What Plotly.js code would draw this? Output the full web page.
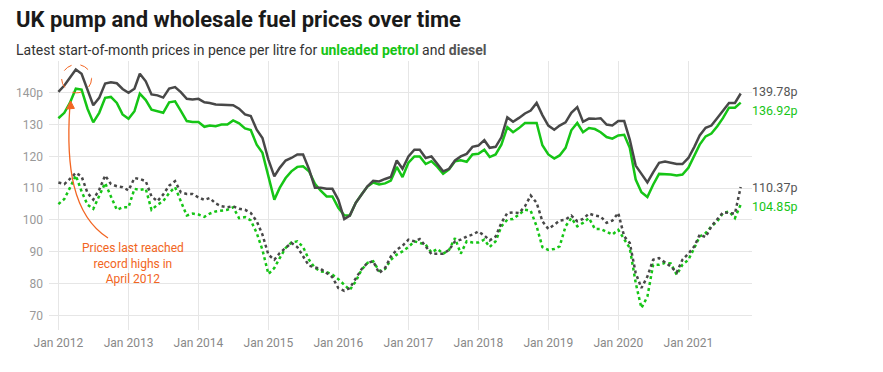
<!DOCTYPE html>
<html>
<head>
<meta charset="utf-8">
<script src="https://cdn.plot.ly/plotly-3.0.1.min.js"></script>
<style>html,body{margin:0;padding:0;background:#fff}#chart{width:883px;height:372px}</style>
</head>
<body>
<div id="chart"></div>
<script>
// Monthly series, Jan 2012 – Oct 2021 (pence per litre)
const startYear = 2012;
const dieselPump = [140.3,142.3,144.7,147.3,146.0,141.0,136.1,138.4,142.9,143.3,143.0,141.2,
 140.0,141.3,146.0,143.6,139.5,139.2,138.5,141.3,141.8,140.2,138.1,137.9,
 138.1,137.0,136.8,136.3,136.2,136.2,136.1,135.0,133.2,132.7,128.4,125.8,
 119.0,113.7,116.4,118.7,119.5,120.6,120.6,116.0,110.1,110.1,109.8,109.8,
 106.4,100.3,101.4,105.4,108.0,110.6,112.3,112.1,112.9,113.5,118.7,116.1,
 120.0,122.1,122.1,119.5,120.0,117.6,115.3,116.1,118.7,120.0,120.8,123.0,
 123.4,125.1,122.7,123.0,126.0,132.3,130.9,132.1,133.5,134.4,136.8,133.0,
 129.7,128.4,129.7,130.7,133.7,135.5,130.9,131.9,131.8,132.0,130.0,129.7,
 131.1,131.1,125.3,117.1,114.6,111.8,115.0,118.0,118.4,118.0,117.6,117.6,
 119.5,123.0,126.6,129.0,129.7,132.1,134.4,136.8,136.8,139.78];
const petrolPump = [132.0,133.7,136.8,141.3,141.0,135.0,130.7,133.7,138.4,138.7,136.8,133.2,
 131.8,134.2,139.7,137.7,134.7,134.2,133.7,137.0,137.3,134.3,131.1,130.8,
 130.8,129.3,129.7,129.5,130.0,130.0,131.3,130.4,128.8,128.3,123.7,121.1,
 113.7,106.4,110.1,113.2,115.3,116.7,116.9,115.3,111.4,109.2,107.4,107.4,
 103.8,101.5,101.4,105.4,108.0,110.5,111.8,111.2,111.5,112.4,116.7,113.5,
 118.0,120.0,120.0,117.6,118.5,116.7,114.5,115.9,118.5,118.8,118.3,120.6,
 120.8,122.1,119.8,120.6,123.7,129.2,127.6,128.9,130.5,130.5,130.5,123.5,
 120.6,119.3,120.3,122.7,128.2,130.5,127.6,128.9,128.6,127.6,126.1,125.6,
 126.6,126.8,122.7,112.7,108.7,107.2,111.1,114.5,114.5,114.3,114.0,114.3,
 116.4,120.0,123.7,126.3,127.2,129.5,132.1,135.3,135.3,136.92];
const dieselWholesale = [111.8,111.3,112.9,114.8,113.7,108.5,106.4,109.5,114.0,111.3,110.6,110.3,
 109.3,113.2,112.9,112.2,107.4,105.9,108.0,110.8,112.2,108.7,108.2,108.2,
 107.1,106.3,106.9,105.2,104.3,104.0,104.3,103.5,103.2,102.2,99.6,95.4,
 89.1,87.5,89.6,91.2,92.8,91.5,88.8,85.6,85.1,84.6,83.3,82.0,
 78.6,77.7,78.6,81.7,84.5,86.5,87.0,83.3,84.9,88.5,90.6,91.9,
 93.8,93.3,94.0,91.7,89.3,89.4,89.4,90.6,93.3,93.8,94.8,95.4,
 96.4,95.1,93.6,94.8,99.1,102.2,102.4,102.2,104.3,107.7,105.4,99.6,
 97.2,98.5,99.8,100.1,101.4,99.6,100.3,102.0,101.4,101.1,99.1,99.8,
 102.2,94.8,92.8,83.3,78.6,82.2,87.5,88.0,86.6,85.4,83.5,87.5,
 89.4,91.7,95.4,94.6,98.0,100.1,102.4,102.2,102.0,110.37];
const petrolWholesale = [105.0,106.6,110.1,114.0,109.0,104.8,103.5,107.4,111.6,107.4,103.2,104.0,
 104.0,109.8,109.5,109.8,103.2,104.8,105.9,108.5,110.3,105.9,101.4,102.0,
 101.7,101.0,102.0,102.7,102.9,103.2,104.0,100.6,100.9,99.9,95.9,90.6,
 83.0,84.9,88.0,91.2,92.9,93.3,91.5,87.5,84.9,83.8,83.6,82.8,
 81.4,79.6,78.0,80.7,84.3,86.5,87.0,84.0,84.6,87.5,89.1,90.1,
 91.5,93.3,92.8,92.2,89.8,90.9,89.4,90.6,94.3,89.4,93.3,92.9,
 92.9,93.8,91.5,93.3,98.0,100.1,100.3,101.7,103.2,102.9,98.0,91.5,
 90.6,90.9,91.7,98.0,100.6,98.0,99.1,100.6,97.2,97.2,96.4,95.4,
 96.9,93.8,91.2,80.2,72.3,75.9,85.9,85.9,86.5,86.3,82.8,85.9,
 87.5,91.2,94.8,95.9,98.0,99.6,102.2,102.7,100.6,104.85];
const yTickVals = [70,80,90,100,110,120,130,140];
const yTickText = ['70','80','90','100','110','120','130','140p'];
const endLabels = ['139.78p','136.92p','110.37p','104.85p'];

const months = dieselPump.map((_, i) => {
  const y = startYear + Math.floor(i / 12), m = (i % 12) + 1;
  return y + '-' + String(m).padStart(2, '0') + '-01';
});
const lastDate = months[months.length - 1];

const GREEN = '#16c516', DARK = '#484848', ORANGE = '#f26522';
const W = 883, H = 372;
const M = {l: 49, r: 131, t: 61, b: 42};
const pw = W - M.l - M.r, ph = H - M.t - M.b;
const px = x => ((x - M.l) / pw).toFixed(4);
const py = y => ((H - M.b - y) / ph).toFixed(4);

const base = {mode: 'lines', hoverinfo: 'skip', showlegend: false, x: months};
const traces = [
  Object.assign({}, base, {y: petrolWholesale, line: {color: GREEN, width: 2.5, dash: 'dot'}}),
  Object.assign({}, base, {y: dieselWholesale, line: {color: DARK, width: 2.5, dash: 'dot'}}),
  Object.assign({}, base, {y: petrolPump, line: {color: GREEN, width: 2.5}}),
  Object.assign({}, base, {y: dieselPump, line: {color: DARK, width: 2.5}})
];

const lastVals = [dieselPump.at(-1), petrolPump.at(-1), dieselWholesale.at(-1), petrolWholesale.at(-1)];
const labelColors = ['#555555', GREEN, '#555555', GREEN];
const labelShift = [2, -8, 0, -2];
const annotations = endLabels.map((t, i) => ({
  x: lastDate, y: lastVals[i], xref: 'x', yref: 'y', text: t, showarrow: false,
  xanchor: 'left', yanchor: 'middle', xshift: 9, yshift: labelShift[i],
  font: {family: 'Roboto', size: 12.5, color: labelColors[i]}
}));
annotations.push({
  xref: 'paper', yref: 'paper', x: px(14), y: py(50), xanchor: 'left', yanchor: 'middle',
  showarrow: false, align: 'left',
  text: 'Latest start-of-month prices in pence per litre for <b><span style="color:' + GREEN + '">unleaded petrol</span></b> and <b><span style="color:#555">diesel</span></b>',
  font: {family: 'Roboto', size: 14, color: '#333'}
});
annotations.push({
  xref: 'paper', yref: 'paper', x: px(133), y: py(264), xanchor: 'center', yanchor: 'middle',
  showarrow: false, align: 'center',
  text: 'Prices last reached<br>record highs in<br>April 2012',
  font: {family: 'Roboto', size: 12, color: ORANGE}
});

const shapes = [
  {type: 'circle', xref: 'x', yref: 'y', x0: '2012-01-18', x1: '2012-06-22', y0: 140.0, y1: 148.9,
   line: {color: ORANGE, width: 1, dash: 'dash'}, layer: 'above'},
  {type: 'path', xref: 'paper', yref: 'paper',
   path: `M${px(108)},${py(238)} C${px(72)},${py(215)} ${px(66)},${py(165)} ${px(69.8)},${py(107)}`,
   line: {color: ORANGE, width: 1.3}},
  {type: 'path', xref: 'paper', yref: 'paper',
   path: `M${px(70.6)},${py(101)} L${px(66.6)},${py(109)} L${px(74.4)},${py(108.4)} Z`,
   fillcolor: ORANGE, line: {color: ORANGE, width: 1}}
];

const layout = {
  width: W, height: H, margin: M,
  paper_bgcolor: '#fff', plot_bgcolor: '#fff',
  font: {family: 'Roboto', color: '#333'},
  title: {text: '<b>UK pump and wholesale fuel prices over time</b>', xref: 'container', yref: 'container',
          x: 16 / W, xanchor: 'left', y: 1 - 19 / H, yanchor: 'middle',
          font: {family: 'Roboto', size: 22, color: '#1a1a1a'}},
  xaxis: {type: 'date', range: ['2011-11-13', '2021-11-29'], tick0: '2012-01-01', dtick: 'M12',
          tickformat: '%b %Y', showgrid: true, gridcolor: '#e6e6e6', gridwidth: 1,
          zeroline: false, showline: false, ticks: '', ticklabelstandoff: 4,
          tickfont: {family: 'Roboto', size: 12, color: '#888'}},
  yaxis: {range: [65.4, 150], tickmode: 'array', tickvals: yTickVals, ticktext: yTickText,
          showgrid: true, gridcolor: '#e6e6e6', gridwidth: 1, zeroline: false, showline: false,
          ticks: '', ticklabelstandoff: 5, tickfont: {family: 'Roboto', size: 12, color: '#999'}},
  annotations: annotations, shapes: shapes, hovermode: false
};

Plotly.newPlot('chart', traces, layout, {displayModeBar: false, staticPlot: true});
</script>
</body>
</html>
